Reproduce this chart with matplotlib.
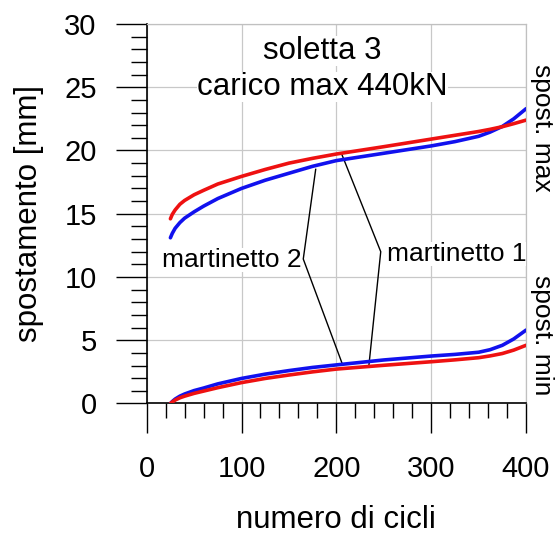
import matplotlib
matplotlib.use("Agg")
import matplotlib.pyplot as plt
from matplotlib.ticker import MultipleLocator

plt.rcParams['font.family'] = ['Liberation Sans', 'DejaVu Sans']

# ---- data ----
cycles = [25, 27, 30, 35, 40, 50, 60, 75, 100, 125, 150, 175, 200, 250, 300, 325, 350, 362, 375, 387, 400]
max_mart1 = [14.6, 14.95, 15.3, 15.75, 16.05, 16.5, 16.85, 17.35, 17.95, 18.5, 19.0, 19.38, 19.72,
             20.3, 20.9, 21.2, 21.5, 21.67, 21.88, 22.12, 22.4]          # red
max_mart2 = [13.1, 13.45, 13.85, 14.3, 14.65, 15.15, 15.6, 16.2, 17.0, 17.65, 18.2, 18.75, 19.2,
             19.78, 20.36, 20.7, 21.12, 21.45, 21.9, 22.5, 23.3]          # blue
min_mart1 = [0.0, 0.12, 0.27, 0.45, 0.58, 0.8, 0.98, 1.25, 1.65, 1.98, 2.25, 2.5, 2.72,
             3.02, 3.3, 3.45, 3.62, 3.76, 3.95, 4.22, 4.6]                # red
min_mart2 = [0.0, 0.16, 0.35, 0.58, 0.75, 1.02, 1.22, 1.55, 1.98, 2.32, 2.6, 2.85, 3.05,
             3.44, 3.75, 3.88, 4.05, 4.25, 4.6, 5.1, 5.8]                 # blue

xticks = [0, 100, 200, 300, 400]
yticks = [0, 5, 10, 15, 20, 25, 30]

RED = '#ee1111'
BLUE = '#1111ee'

fig = plt.figure(figsize=(5.58, 5.40), dpi=100)
ax = fig.add_axes([0.2629, 0.2528, 0.6798, 0.7028])

ax.set_xlim(0, 400)
ax.set_ylim(0, 30)

ax.grid(True, which='major', color='#c8c8c8', lw=0.9)
ax.set_axisbelow(True)

for s in ['top', 'right']:
    ax.spines[s].set_color('#c0c0c0')
    ax.spines[s].set_linewidth(0.9)
for s in ['left', 'bottom']:
    ax.spines[s].set_color('black')
    ax.spines[s].set_linewidth(1.2)

ax.set_xticks(xticks)
ax.set_yticks(yticks)
ax.xaxis.set_minor_locator(MultipleLocator(20))
ax.yaxis.set_minor_locator(MultipleLocator(1))
ax.tick_params(axis='x', which='major', direction='out', length=21.6, width=1.0, pad=15.6, labelsize=21)
ax.tick_params(axis='x', which='minor', direction='out', length=11, width=1.0)
ax.tick_params(axis='y', which='major', direction='out', length=22.3, width=1.0, pad=13.7, labelsize=21)
ax.tick_params(axis='y', which='minor', direction='out', length=11.5, width=1.0)
ax.tick_params(top=False, right=False, which='both')

# annotation leaders (drawn under curves)
ax.plot([178.2, 165.1, 206.3], [18.51, 11.42, 3.12], color='black', lw=1.0, zorder=2)
ax.plot([205.6, 246.8, 234.1], [19.72, 12.0, 2.86], color='black', lw=1.0, zorder=2)

# curves
style = dict(lw=2.6, zorder=3, solid_joinstyle='round', solid_capstyle='round')
ax.plot(cycles, max_mart2, color=BLUE, **style)
ax.plot(cycles, max_mart1, color=RED, **style)
ax.plot(cycles, min_mart2, color=BLUE, **style)
ax.plot(cycles, min_mart1, color=RED, **style)

box = dict(facecolor='white', edgecolor='none', pad=0)
ax.text(185.2, 27.87, 'soletta 3', fontsize=22.5, ha='center', va='center', bbox=box, zorder=4)
ax.text(185.2, 25.0, 'carico max 440kN', fontsize=22.5, ha='center', va='center', bbox=box, zorder=4)
ax.text(163.4, 11.34, 'martinetto 2', fontsize=19, ha='right', va='center', bbox=box, zorder=4)
ax.text(253.1, 11.82, 'martinetto 1', fontsize=19, ha='left', va='center', bbox=box, zorder=4)

ax.text(1.0414, 0.726, 'spost. max', transform=ax.transAxes, rotation=270, fontsize=19,
        ha='center', va='center', clip_on=False)
ax.text(1.0414, 0.1805, 'spost. min', transform=ax.transAxes, rotation=270, fontsize=19,
        ha='center', va='center', clip_on=False)

ax.set_xlabel('numero di cicli', fontsize=22.5)
ax.set_ylabel('spostamento [mm]', fontsize=22.5)
ax.xaxis.set_label_coords(0.5, -0.2667)
ax.yaxis.set_label_coords(-0.2708, 0.5)

fig.savefig('out.png', dpi=100)
